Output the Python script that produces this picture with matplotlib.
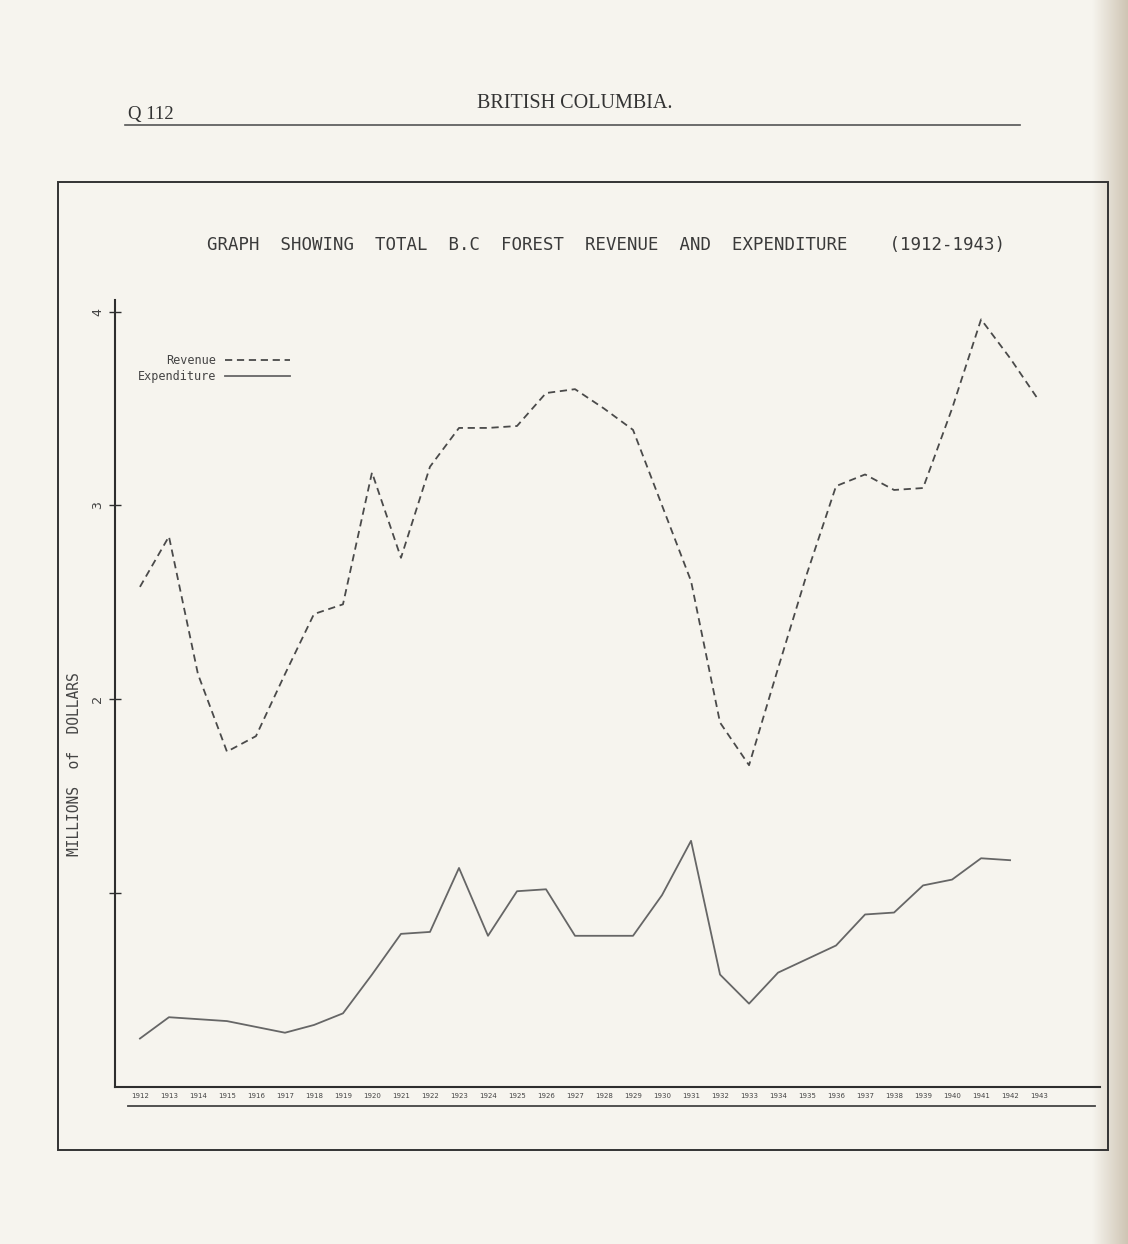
import numpy as np
import matplotlib
matplotlib.use("Agg")
import matplotlib.pyplot as plt
from matplotlib.lines import Line2D
from matplotlib.patches import Rectangle
from matplotlib.colors import LinearSegmentedColormap

# data (millions of dollars)
years = [1912, 1913, 1914, 1915, 1916, 1917, 1918, 1919, 1920, 1921, 1922,
         1923, 1924, 1925, 1926, 1927, 1928, 1929, 1930, 1931, 1932, 1933,
         1934, 1935, 1936, 1937, 1938, 1939, 1940, 1941, 1942, 1943]
revenue = [2.58, 2.84, 2.13, 1.73, 1.81, 2.13, 2.44, 2.49, 3.17, 2.73, 3.20,
           3.40, 3.40, 3.41, 3.58, 3.60, 3.50, 3.39, 3.00, 2.61, 1.88, 1.66,
           2.16, 2.65, 3.10, 3.16, 3.08, 3.09, 3.50, 3.96, 3.76, 3.54]
exp_years = years[:-1]
expenditure = [0.25, 0.36, 0.35, 0.34, 0.31, 0.28, 0.32, 0.38, 0.58, 0.79,
               0.80, 1.13, 0.78, 1.01, 1.02, 0.78, 0.78, 0.78, 0.99, 1.27,
               0.58, 0.43, 0.59, 0.66, 0.73, 0.89, 0.90, 1.04, 1.07, 1.18, 1.17]
y_ticks = [1, 2, 3, 4]
y_ticklabels = ['', '2', '3', '4']

W, H = 1128, 1244
page = '#f6f4ee'
ink = '#2e2e2e'

fig = plt.figure(figsize=(W / 100, H / 100), dpi=100)
fig.patch.set_facecolor(page)

# darker gutter strip on right edge of the scan
gx = fig.add_axes([1092 / W, 0, 36 / W, 1])
grad = np.linspace(0, 1, 64).reshape(1, -1)
gx.imshow(grad, aspect='auto', extent=[0, 1, 0, 1],
          cmap=LinearSegmentedColormap.from_list('g', [page, '#cfc5b4']))
gx.axis('off')

# page header
fig.text(128 / W, 1 - 115 / H, 'Q 112', family='Liberation Serif',
         fontsize=13.5, color='#333', va='center', ha='left')
fig.text(575 / W, 1 - 104 / H, 'BRITISH COLUMBIA.', family='Liberation Serif',
         fontsize=14.5, color='#333', va='center', ha='center')
fig.add_artist(Line2D([125 / W, 1020 / W], [1 - 125 / H, 1 - 125 / H],
                      color='#555', lw=1.2))

# frame round the graph
fig.add_artist(Rectangle((58 / W, 1 - 1150 / H), (1108 - 58) / W,
                         (1150 - 182) / H, transform=fig.transFigure,
                         fill=False, ec='#333', lw=1.4))

fig.text(606 / W, 1 - 245 / H,
         'GRAPH  SHOWING  TOTAL  B.C  FOREST  REVENUE  AND  EXPENDITURE    (1912-1943)',
         family='DejaVu Sans Mono', fontsize=12.5, color='#3a3a3a',
         ha='center', va='center')

ax = fig.add_axes([115 / W, 1 - 1087 / H, (1100 - 115) / W, (1087 - 300) / H])
ax.set_facecolor('none')

ax.plot(years, revenue, color='#4a4a4a', lw=1.3, ls=(0, (4, 2.6)),
        label='Revenue')
ax.plot(exp_years, expenditure, color='#666666', lw=1.3, label='Expenditure')

ax.set_xlim(1911.14, 1945.1)
ax.set_ylim(0, 4.06)

for s in ['top', 'right']:
    ax.spines[s].set_visible(False)
for s in ['left', 'bottom']:
    ax.spines[s].set_color(ink)
    ax.spines[s].set_linewidth(1.5)

ax.set_yticks(y_ticks)
ax.set_yticklabels(y_ticklabels, rotation=90, va='center',
                   family='DejaVu Sans Mono', fontsize=9.5, color='#444')
ax.tick_params(axis='y', direction='inout', length=8, width=1, color=ink, pad=4)

ax.set_xticks(years)
ax.set_xticklabels([str(y) for y in years], fontsize=5, color='#444')
ax.tick_params(axis='x', length=0, pad=4)

ax.set_ylabel('MILLIONS  of  DOLLARS', family='DejaVu Sans Mono',
              fontsize=10.5, color='#444')
ax.yaxis.set_label_coords(-0.034, 0.41)

# rule under the year labels
fig.add_artist(Line2D([128 / W, 1095 / W], [1 - 1106 / H, 1 - 1106 / H],
                      color='#444', lw=1.3))

ax.legend(loc='upper left', bbox_to_anchor=(0.012, 0.945), markerfirst=False,
          frameon=False, handlelength=5.5, handletextpad=0.8,
          labelspacing=0.3, prop={'family': 'DejaVu Sans Mono', 'size': 8.5},
          labelcolor='#444')

fig.savefig('out.png', dpi=100, facecolor=fig.get_facecolor())
